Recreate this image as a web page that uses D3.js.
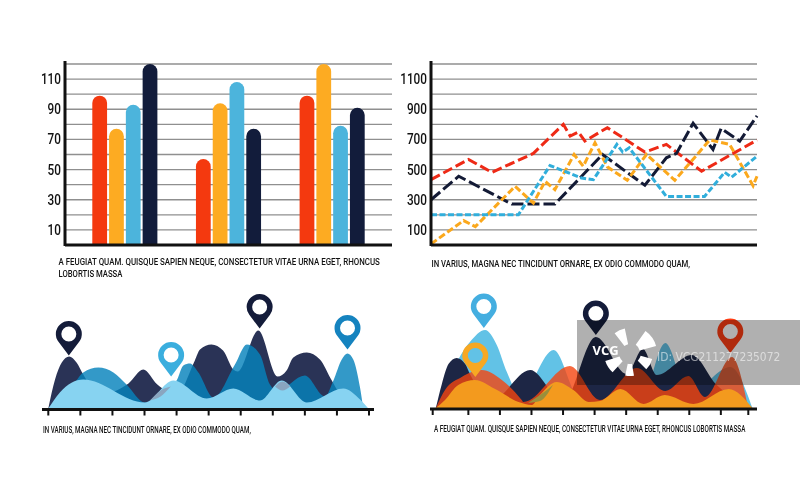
<!DOCTYPE html>
<html>
<head>
<meta charset="utf-8">
<script src="https://cdn.jsdelivr.net/npm/d3@7"></script>
<style>
  html, body { margin: 0; padding: 0; background: #fff; }
  svg { display: block; }
  text { font-family: "Roboto", sans-serif; fill: #111; }
</style>
</head>
<body>
<svg id="chart" width="800" height="495"></svg>
<script>
// bar chart
const barGroups = ['a', 'b', 'c'];
const barRed = [99, 57, 99];
const barOrange = [77, 94, 120];
const barBlue = [93, 108, 79];
const barNavy = [120, 77, 91];
const barTicks = [10, 30, 50, 70, 90, 110];
const gridBar = [10, 20, 30, 40, 50, 60, 70, 80, 90, 100, 110, 120];

// line chart, x runs 0-100 along the axis
const lineTicks = [100, 300, 500, 700, 900, 1100];
const gridLine = [100, 200, 300, 400, 500, 600, 700, 800, 900, 1000, 1100, 1200];
const redX = [0, 11.5, 18.7, 31.4, 40.6, 42.7, 45.2, 47.2, 54.1, 65.6, 72.2, 83, 100];
const redY = [433, 567, 482, 607, 800, 722, 749, 689, 778, 616, 667, 489, 696];
const navyX = [0, 8.5, 24.8, 38, 52.6, 65.6, 72.2, 75.3, 80.4, 86.5, 89, 94.7, 100];
const navyY = [300, 456, 271, 271, 600, 396, 578, 607, 807, 633, 773, 689, 856];
const blueX = [0, 26.8, 36.5, 46.2, 49.8, 57, 58.8, 60.8, 72.2, 83.9, 90.1, 92.2, 100];
const blueY = [200, 200, 527, 444, 433, 667, 616, 644, 322, 322, 482, 449, 589];
const orangeX = [0, 10, 13.6, 25.8, 31.4, 35, 38, 43.9, 46.7, 50.3, 54.1, 60.2, 66.1, 74.8, 85.5, 91.6, 98.8, 100];
const orangeY = [7, 162, 122, 389, 278, 422, 367, 600, 522, 678, 518, 429, 600, 429, 696, 667, 393, 456];

// left area chart, x in tick steps
const leftTicks = [0, 1, 2, 3, 4, 5, 6, 7, 8, 9, 10];
const leftNavyX = [0, 0.21, 0.42, 0.65, 0.88, 1.09, 1.56, 2.5, 2.96, 3.4, 4.0, 4.57, 4.73, 5.09, 5.45, 5.77, 5.9, 6.55, 7.15, 7.43, 7.64, 8.06, 8.47, 8.84, 9.1, 9.4, 9.9];
const leftNavyY = [0, 29, 46, 52, 46, 34, 14, 25, 39, 24, 14, 48, 59, 64, 58, 39, 37, 78, 32, 38, 51, 56, 49, 28, 14, 7, 0];
const leftBlueX = [0, 0.78, 1.09, 1.56, 2.03, 2.44, 3.01, 4.0, 4.21, 4.42, 4.68, 5.15, 5.82, 6.19, 6.6, 6.91, 7.15, 8.0, 8.63, 8.89, 9.15, 9.33, 9.51, 9.72, 9.82];
const leftBlueY = [0, 24, 36, 41, 36, 24, 6, 28, 43, 45, 36, 11, 44, 64, 54, 24, 18, 33, 12, 28, 49, 55, 49, 21, 0];
const leftSkyX = [0, 0.36, 1.09, 3.01, 3.9, 4.94, 5.77, 6.6, 7.28, 8.06, 9.2, 9.72, 9.98];
const leftSkyY = [0, 16, 29, 6, 28, 10, 20, 8, 28, 6, 20, 9, 0];
const leftLens1X = [3.17, 3.5, 3.82];
const leftLens1Top = [8, 18, 22];
const leftLens1Low = [8, 12, 22];
const leftLens2X = [7.07, 7.3, 7.54];
const leftLens2Top = [22, 27, 22];
const leftLens2Low = [22, 18, 22];
const leftPinX = [0.64, 3.83, 6.59, 9.33];
const leftPinTop = [53, 32, 80, 59];

// right area chart, x in tick steps
const rightTicks = [0, 1.13, 2.13, 3.13, 4.13, 5.13, 6.13, 7.13, 8.13, 9.13, 10];
const rightNavyX = [0.1, 0.29, 0.5, 0.76, 1.03, 1.18, 1.87, 3.09, 4.14, 5.17, 6.15, 6.66, 7.1, 8.21, 9.0, 10.12];
const rightNavyY = [0, 24, 44, 50, 44, 34, 8, 38, 6, 71, 34, 59, 33, 53, 23, 0];
const rightSkyX = [0.1, 1.18, 1.66, 2.03, 2.35, 2.77, 3.83, 4.67, 6.6, 7.37, 8.1, 9.43, 10.13];
const rightSkyY = [0, 66, 78, 63, 36, 13, 58, 9, 8, 65, 14, 41, 0];
const rightRedX = [0.1, 0.39, 0.92, 1.55, 2.19, 2.82, 2.87, 4.35, 5.3, 6.47, 7.37, 8.1, 8.63, 9.48, 10];
const rightRedY = [0, 18, 31, 38, 28, 8, 6, 42, 8, 40, 17, 32, 11, 51, 0];
const rightOrangeX = [0.1, 0.39, 0.81, 1.34, 1.98, 2.72, 3.14, 3.4, 3.93, 4.46, 4.94, 5.3, 5.95, 6.68, 7.35, 8.26, 9.38, 10.13];
const rightOrangeY = [0, 8, 23, 28, 19, 6, 3, 13, 26, 18, 6, 7, 19, 4, 13, 4, 19, 0];
const rightLensX = [3.02, 3.4, 3.81];
const rightLensTop = [5, 13, 23];
const rightLensLow = [5, 7, 23];
const rightPinX = [1.62, 1.35, 5.17, 9.43];
const rightPinTop = [80, 31, 73, 55];

// watermark wedges, degrees and radii
const logoStart = [-38, 35, 105, 170, 222];
const logoEnd = [-12, 75, 135, 192, 252];
const logoInner = [9, 10, 11, 11, 11];
const logoOuter = [25, 27, 23, 23, 26];

const svg = d3.select('#chart');
const height = 245;

// squeeze a label to the width it has in the picture, the font here is wider
function fit(sel, width) {
  sel.each(function (d, i) {
    const t = d3.select(this);
    const w = typeof width === 'function' ? width(d, i) : width;
    const k = w / this.getComputedTextLength();
    t.attr('transform', `translate(${t.attr('data-x')},${t.attr('data-y')}) scale(${k},1)`);
  });
}

function yAxisChart(left, right, domainMax, grid, ticks) {
  const y = d3.scaleLinear().domain([0, domainMax]).range([height, 64]);
  svg.append('g').selectAll('line').data(grid).enter().append('line')
    .attr('x1', left).attr('x2', right)
    .attr('y1', d => y(d)).attr('y2', d => y(d))
    .attr('stroke', '#8f8f8f').attr('stroke-width', 1.3);
  svg.append('g').selectAll('text').data(ticks).enter().append('text')
    .attr('data-x', left - 4).attr('data-y', d => y(d) + 5)
    .attr('text-anchor', 'end')
    .attr('font-size', 14).style('font-weight', 500)
    .text(d => d)
    .call(fit, d => String(d).length * 6.7);
  return y;
}

function axisLines(left, right) {
  svg.append('line').attr('x1', left).attr('x2', left).attr('y1', 61).attr('y2', height + 1)
    .attr('stroke', '#111').attr('stroke-width', 3);
  svg.append('line').attr('x1', left).attr('x2', right).attr('y1', height).attr('y2', height)
    .attr('stroke', '#111').attr('stroke-width', 3);
}

// Bars
const yBar = yAxisChart(65, 392, 120, gridBar, barTicks);
const groupX = d3.scaleBand().domain(barGroups).range([92.3, 364.7]).paddingInner(0.372);
const barX = d3.scaleBand().domain([0, 1, 2, 3]).range([0, groupX.bandwidth()]).paddingInner(0.12);
[[barRed, '#f4390f'], [barOrange, '#fdab22'], [barBlue, '#4cb4dc'], [barNavy, '#121c3b']].forEach((s, k) => {
  svg.append('g').selectAll('path').data(s[0]).enter().append('path')
    .attr('fill', s[1])
    .attr('d', (d, i) => {
      const x0 = groupX(barGroups[i]) + barX(k), w = barX.bandwidth(), r = w / 2;
      const top = yBar(d);
      return `M${x0},${height}V${top + r}A${r},${r} 0 0 1 ${x0 + w},${top + r}V${height}Z`;
    });
});
axisLines(65, 392);

// Dashed lines
const yLine = yAxisChart(431, 757, 1200, gridLine, lineTicks);
const xLine = d3.scaleLinear().domain([0, 100]).range([431, 757]);
const line = d3.line().x(d => xLine(d[0])).y(d => yLine(d[1]));
[[redX, redY, '#ee2a16', '10 4'], [navyX, navyY, '#131a35', '12 4'], [orangeX, orangeY, '#fba81c', '7 3'], [blueX, blueY, '#31aedb', '6 2.5']].forEach(s => {
  svg.append('path').datum(d3.zip(s[0], s[1]))
    .attr('d', line).attr('fill', 'none')
    .attr('stroke', s[2]).attr('stroke-width', 3)
    .attr('stroke-dasharray', s[3]);
});
axisLines(431, 757);

// Area charts
function pin(g, cx, tip, color) {
  const R = 13, hole = 7.5;
  const cy = tip - 21.5;
  const a = Math.acos(R / (tip - cy));
  const x1 = R * Math.sin(a), y1 = R * Math.cos(a);
  const d = `M${cx},${tip}L${cx - x1},${cy + y1}A${R},${R} 0 1 1 ${cx + x1},${cy + y1}Z` +
    `M${cx - hole},${cy}A${hole},${hole} 0 1 0 ${cx + hole},${cy}A${hole},${hole} 0 1 0 ${cx - hole},${cy}Z`;
  g.append('path').attr('d', d).attr('fill', color).attr('fill-rule', 'evenodd');
}

function areaChart(opts) {
  const x = d3.scaleLinear().domain([0, 10]).range([opts.x0, opts.x1]);
  const y = d3.scaleLinear().domain([0, 100]).range([opts.base, opts.base - 100]);
  const area = d3.area().x(d => x(d[0])).y0(y(0)).y1(d => y(d[1])).curve(d3.curveMonotoneX);
  const band = d3.area().x(d => x(d[0])).y0(d => y(d[2])).y1(d => y(d[1])).curve(d3.curveMonotoneX);
  const g = svg.append('g');
  opts.series.forEach(s => {
    g.append('path').datum(d3.zip(s[0], s[1]))
      .attr('d', area).attr('fill', s[2]).attr('fill-opacity', s[3]);
  });
  // small see-through spots where the top layer crosses a dark one
  opts.lenses.forEach(s => {
    g.append('path').datum(d3.zip(s[0], s[1], s[2]))
      .attr('d', band).attr('fill', s[3]);
  });
  opts.pinX.forEach((d, i) => pin(g, x(d), y(opts.pinTop[i]), opts.pinColor[i]));
  g.append('line').attr('x1', opts.left).attr('x2', opts.right)
    .attr('y1', opts.base + 1).attr('y2', opts.base + 1)
    .attr('stroke', '#111').attr('stroke-width', 3);
  g.selectAll('.tick').data(opts.ticks).enter().append('line')
    .attr('x1', d => x(d)).attr('x2', d => x(d))
    .attr('y1', opts.base).attr('y2', opts.base + 7)
    .attr('stroke', '#111').attr('stroke-width', 2);
}

areaChart({
  x0: 48.3, x1: 369, base: 408.5, left: 42, right: 374,
  ticks: leftTicks,
  series: [
    [leftNavyX, leftNavyY, '#2a3356', 1],
    [leftBlueX, leftBlueY, '#0682bc', 0.82],
    [leftSkyX, leftSkyY, '#87d3f1', 1]
  ],
  lenses: [
    [leftLens1X, leftLens1Top, leftLens1Low, '#8aa5bf'],
    [leftLens2X, leftLens2Top, leftLens2Low, '#8aa5bf']
  ],
  pinX: leftPinX, pinTop: leftPinTop,
  pinColor: ['#141c3a', '#3aaede', '#141c3a', '#1583bf']
});

areaChart({
  x0: 432.7, x1: 748.3, base: 408, left: 430, right: 757,
  ticks: rightTicks,
  series: [
    [rightSkyX, rightSkyY, '#62c2e6', 1],
    [rightNavyX, rightNavyY, '#1d2645', 1],
    [rightRedX, rightRedY, '#f5450f', 0.8],
    [rightOrangeX, rightOrangeY, '#f39a1e', 1]
  ],
  lenses: [
    [rightLensX, rightLensTop, rightLensLow, '#9a8f3c']
  ],
  pinX: rightPinX, pinTop: rightPinTop,
  pinColor: ['#44aee0', '#f7a823', '#141c3a', '#ff3c12']
});

// Captions
const captions = [
  ['A FEUGIAT QUAM. QUISQUE SAPIEN NEQUE, CONSECTETUR VITAE URNA EGET, RHONCUS', 58.5, 264.5, 322],
  ['LOBORTIS MASSA', 58.5, 276.5, 64],
  ['IN VARIUS, MAGNA NEC TINCIDUNT ORNARE, EX ODIO COMMODO QUAM,', 431.5, 266.5, 259],
  ['IN VARIUS, MAGNA NEC TINCIDUNT ORNARE, EX ODIO COMMODO QUAM,', 43, 432.5, 208],
  ['A FEUGIAT QUAM. QUISQUE SAPIEN NEQUE, CONSECTETUR VITAE URNA EGET, RHONCUS LOBORTIS MASSA', 434, 431.5, 312]
];
svg.append('g').selectAll('text').data(captions).enter().append('text')
  .attr('data-x', d => d[1]).attr('data-y', d => d[2])
  .attr('font-size', 9).style('font-weight', 500)
  .text(d => d[0])
  .call(fit, d => d[3]);

// Stock agency band over the lower right chart
svg.append('rect').attr('x', 577).attr('y', 320).attr('width', 223).attr('height', 65)
  .attr('fill', '#b0b0b0').style('mix-blend-mode', 'multiply');
const wedge = d3.arc();
svg.append('g').attr('transform', 'translate(630,353)').selectAll('path')
  .data(d3.range(logoStart.length)).enter().append('path')
  .attr('fill', '#fff')
  .attr('d', i => wedge({
    innerRadius: logoInner[i], outerRadius: logoOuter[i],
    startAngle: logoStart[i] * Math.PI / 180, endAngle: logoEnd[i] * Math.PI / 180
  }));
svg.append('text').attr('x', 592.5).attr('y', 355)
  .attr('font-size', 13).style('font-weight', 700).style('fill', '#fff')
  .style('font-family', '"Open Sans", sans-serif').text('VCG');
svg.append('text').attr('data-x', 657).attr('data-y', 361)
  .attr('font-size', 12.5).style('fill', '#fff').style('fill-opacity', 0.55)
  .style('font-family', '"DejaVu Sans", sans-serif').text('ID: VCG211277235072')
  .call(fit, 123.5);
</script>
</body>
</html>
